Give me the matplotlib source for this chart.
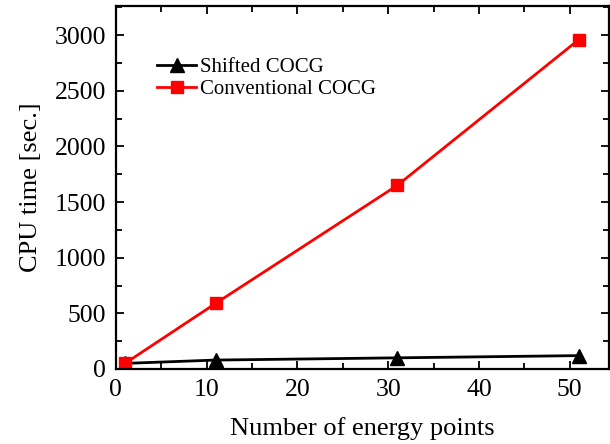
import numpy as np
import matplotlib.pyplot as plt
from matplotlib.ticker import MultipleLocator

plt.rcParams['font.family'] = ['Liberation Serif', 'DejaVu Serif']

#%% data
n_points = [1, 11, 31, 51]
shifted = [50, 80, 100, 120]
conventional = [50, 590, 1650, 2960]

#%% figure
fig = plt.figure(figsize=(6.1, 4.44), dpi=100)
ax = fig.add_axes([0.190, 0.169, 0.808, 0.817])

ax.plot(n_points, shifted, color='black', marker='^', markersize=10, lw=2,
        label='Shifted COCG')
ax.plot(n_points, conventional, color='red', marker='s', markersize=9, lw=2,
        label='Conventional COCG')

ax.set_xlim(0, 54.3)
ax.set_ylim(0, 3260)
ax.xaxis.set_major_locator(MultipleLocator(10))
ax.xaxis.set_minor_locator(MultipleLocator(5))
ax.yaxis.set_major_locator(MultipleLocator(500))
ax.yaxis.set_minor_locator(MultipleLocator(250))
ax.tick_params(which='both', direction='in', top=True, right=True,
               labeltop=False, labelright=False, width=1.3)
ax.tick_params(which='major', length=6, labelsize=18.5, pad=7)
ax.tick_params(which='minor', length=4)
for s in ax.spines.values():
    s.set_linewidth(1.6)

ax.set_xlabel('Number of energy points', fontsize=19, labelpad=12)
ax.set_ylabel('CPU time [sec.]', fontsize=19, labelpad=9)

ax.legend(loc='upper left', bbox_to_anchor=(0.045, 0.91), frameon=False,
          fontsize=15, handlelength=1.9, handletextpad=0.15, labelspacing=0.1)

fig.savefig('out.png', dpi=100)
